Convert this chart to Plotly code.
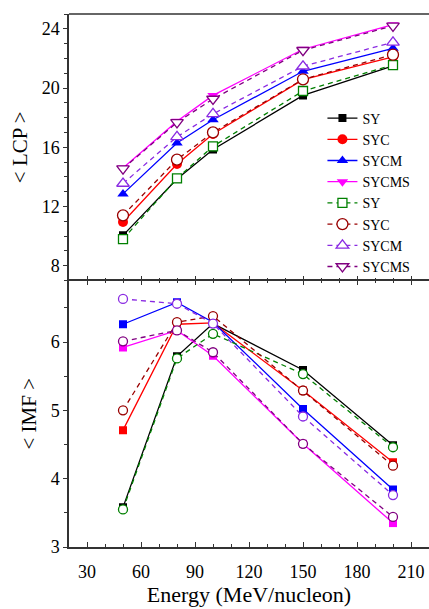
import plotly.graph_objects as go
from plotly.subplots import make_subplots

energy = [50, 80, 100, 150, 200]
series_names = ["SY", "SYC", "SYCM", "SYCMS"]

# <LCP> solid (filled markers)
lcp_sy = [10.05, 13.85, 15.85, 19.5, 21.5]
lcp_syc = [10.95, 14.87, 16.9, 20.57, 22.1]
lcp_sycm = [12.85, 16.29, 17.86, 21.13, 22.68]
lcp_sycms = [14.6, 17.75, 19.5, 22.62, 24.28]
# <LCP> dashed (open markers)
lcp_sy_d = [9.8, 13.9, 16.06, 19.8, 21.55]
lcp_syc_d = [11.4, 15.16, 17.0, 20.59, 22.25]
lcp_sycm_d = [13.55, 16.7, 18.25, 21.47, 23.09]
lcp_sycms_d = [14.55, 17.68, 19.26, 22.55, 24.2]

# <IMF> solid
imf_sy = [3.58, 5.79, 6.27, 5.59, 4.49]
imf_syc = [4.71, 6.26, 6.28, 5.29, 4.24]
imf_sycm = [6.26, 6.58, 6.29, 5.02, 3.84]
imf_sycms = [5.92, 6.17, 5.80, 4.51, 3.35]
# <IMF> dashed
imf_sy_d = [3.55, 5.76, 6.12, 5.53, 4.46]
imf_syc_d = [5.0, 6.29, 6.38, 5.29, 4.19]
imf_sycm_d = [6.63, 6.56, 6.27, 4.91, 3.76]
imf_sycms_d = [6.01, 6.17, 5.85, 4.51, 3.44]

solid_colors = ["#000000", "#FF0000", "#0000FF", "#FF00FF"]
dash_colors = ["#008000", "#990000", "#8A2BE2", "#800080"]
top_symbols = ["square", "circle", "triangle-up", "triangle-down"]
top_sizes = [8, 10, 10, 10]

lcp_solid = [lcp_sy, lcp_syc, lcp_sycm, lcp_sycms]
lcp_dash = [lcp_sy_d, lcp_syc_d, lcp_sycm_d, lcp_sycms_d]
imf_solid = [imf_sy, imf_syc, imf_sycm, imf_sycms]
imf_dash = [imf_sy_d, imf_syc_d, imf_sycm_d, imf_sycms_d]

FONT = "Liberation Serif"
AX = "#333333"

fig = make_subplots(rows=2, cols=1, shared_xaxes=False, vertical_spacing=0)

for i, name in enumerate(series_names):
    fig.add_trace(go.Scatter(
        x=energy, y=lcp_solid[i], mode="lines+markers", name=name,
        line=dict(color=solid_colors[i], width=1.3),
        marker=dict(symbol=top_symbols[i], size=top_sizes[i], color=solid_colors[i],
                    line=dict(width=0)),
        legendgroup="s" + name), row=1, col=1)
for i, name in enumerate(series_names):
    fig.add_trace(go.Scatter(
        x=energy, y=lcp_dash[i], mode="lines+markers", name=name,
        line=dict(color=dash_colors[i], width=1.3, dash="5px,4px"),
        marker=dict(symbol=top_symbols[i], size=top_sizes[i] + 1, color="white",
                    line=dict(width=1.3, color=dash_colors[i])),
        legendgroup="d" + name), row=1, col=1)
for i, name in enumerate(series_names):
    fig.add_trace(go.Scatter(
        x=energy, y=imf_solid[i], mode="lines+markers", name=name, showlegend=False,
        line=dict(color=solid_colors[i], width=1.3),
        marker=dict(symbol="square", size=8, color=solid_colors[i], line=dict(width=0)),
        legendgroup="s" + name), row=2, col=1)
for i, name in enumerate(series_names):
    fig.add_trace(go.Scatter(
        x=energy, y=imf_dash[i], mode="lines+markers", name=name, showlegend=False,
        line=dict(color=dash_colors[i], width=1.3, dash="5px,4px"),
        marker=dict(symbol="circle", size=9, color="white",
                    line=dict(width=1.3, color=dash_colors[i])),
        legendgroup="d" + name), row=2, col=1)

common_x = dict(range=[20, 220], tick0=30, dtick=30, showgrid=False, zeroline=False,
                linecolor=AX, linewidth=1.5, ticks="inside", ticklen=5,
                tickwidth=1.2, tickcolor=AX,
                minor=dict(dtick=10, tick0=30, ticks="inside", ticklen=3, tickcolor=AX,
                           tickwidth=1, showgrid=False))
fig.update_xaxes(**common_x, showline=False, showticklabels=False, row=1, col=1)
fig.update_xaxes(**common_x, showline=True, mirror="ticks", showticklabels=True,
                 tickfont=dict(size=18, family=FONT, color="black"),
                 ticklabelstandoff=8,
                 title=dict(text="Energy (MeV/nucleon)", standoff=4,
                            font=dict(size=22, family=FONT, color="black")),
                 row=2, col=1)

common_y = dict(showgrid=False, zeroline=False, showline=True, linecolor=AX, linewidth=1.5,
                ticks="outside", ticklen=4, tickwidth=1.2, tickcolor=AX,
                tickfont=dict(size=18, family=FONT, color="black"))
fig.update_yaxes(**common_y, range=[7, 25], tick0=0, dtick=4,
                 minor=dict(dtick=1, ticks="outside", ticklen=3, tickcolor=AX, tickwidth=1,
                            showgrid=False),
                 title=dict(text="< LCP >", standoff=8,
                            font=dict(size=21, family=FONT, color="black")),
                 row=1, col=1)
fig.update_yaxes(**common_y, range=[3, 6.9], tick0=0, dtick=1,
                 minor=dict(dtick=0.5, ticks="outside", ticklen=3, tickcolor=AX, tickwidth=1,
                            showgrid=False),
                 title=dict(text="< IMF >", standoff=8,
                            font=dict(size=21, family=FONT, color="black")),
                 row=2, col=1)

# top frame line of the upper panel
fig.add_shape(type="line", xref="paper", yref="paper", x0=0, x1=1, y0=1, y1=1,
              line=dict(color=AX, width=1.5))

fig.update_layout(
    width=429, height=609,
    margin=dict(l=69, r=0, t=14, b=62),
    paper_bgcolor="white", plot_bgcolor="white",
    font=dict(family=FONT, color="black"),
    legend=dict(x=0.704, y=0.834, xanchor="left", yanchor="top",
                bgcolor="rgba(0,0,0,0)", font=dict(size=14, family=FONT, color="black"),
                tracegroupgap=0, itemwidth=30),
)
fig.update_layout(yaxis=dict(domain=[0.5, 1.0]), yaxis2=dict(domain=[0.0, 0.5]))

fig.write_html("out.html", config={"displayModeBar": False},
               post_script="document.body.style.margin='0';document.body.style.overflow='hidden';")
